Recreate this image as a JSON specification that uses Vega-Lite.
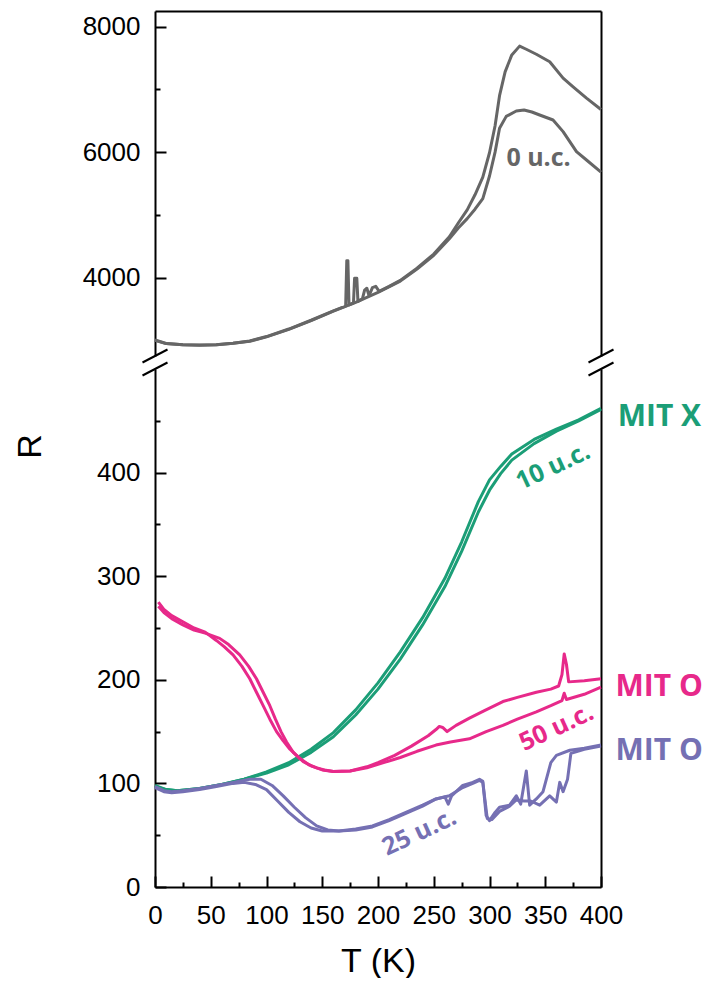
{
  "$schema": "https://vega.github.io/schema/vega-lite/v6.json",
  "background": "white",
  "padding": {"left": 13, "top": 11, "right": 0, "bottom": 0},
  "bounds": "flush",
  "spacing": 13,
  "config": {
    "view": {"stroke": null},
    "axis": {"grid": false, "format": "d", "labelOverlap": false, "labelFlush": false, "domainColor": "black", "domainWidth": 2, "tickColor": "black", "tickWidth": 2, "labelFont": "Liberation Sans", "labelFontSize": 26, "labelColor": "black", "titleFont": "Liberation Sans", "titleFontSize": 34, "titleFontWeight": "normal", "titleColor": "black"},
    "text": {"font": "Open Sans", "fontWeight": "bold"}
  },
  "datasets": {
    "gray": [
      {"c":"g1","T":0,"R":3005},{"c":"g1","T":10,"R":2950},{"c":"g1","T":25,"R":2930},{"c":"g1","T":40,"R":2925},{"c":"g1","T":55,"R":2930},{"c":"g1","T":70,"R":2955},{"c":"g1","T":85,"R":2990},{"c":"g1","T":100,"R":3060},{"c":"g1","T":120,"R":3180},{"c":"g1","T":140,"R":3320},{"c":"g1","T":160,"R":3470},{"c":"g1","T":168,"R":3525},{"c":"g1","T":171,"R":3545},{"c":"g1","T":172,"R":4270},{"c":"g1","T":173,"R":4270},{"c":"g1","T":174,"R":3565},{"c":"g1","T":178,"R":3595},{"c":"g1","T":179,"R":3990},{"c":"g1","T":181,"R":3990},{"c":"g1","T":182,"R":3620},{"c":"g1","T":186,"R":3660},{"c":"g1","T":188,"R":3800},{"c":"g1","T":190,"R":3830},{"c":"g1","T":192,"R":3710},{"c":"g1","T":195,"R":3840},{"c":"g1","T":198,"R":3860},{"c":"g1","T":201,"R":3780},{"c":"g1","T":210,"R":3860},{"c":"g1","T":220,"R":3955},{"c":"g1","T":235,"R":4150},{"c":"g1","T":250,"R":4375},{"c":"g1","T":264,"R":4650},{"c":"g1","T":272,"R":4870},{"c":"g1","T":280,"R":5080},{"c":"g1","T":287,"R":5320},{"c":"g1","T":294,"R":5600},{"c":"g1","T":300,"R":5990},{"c":"g1","T":305,"R":6420},{"c":"g1","T":309,"R":6900},{"c":"g1","T":314,"R":7280},{"c":"g1","T":320,"R":7550},{"c":"g1","T":327,"R":7690},{"c":"g1","T":333,"R":7640},{"c":"g1","T":342,"R":7560},{"c":"g1","T":354,"R":7440},{"c":"g1","T":366,"R":7180},{"c":"g1","T":375,"R":7040},{"c":"g1","T":387,"R":6860},{"c":"g1","T":400,"R":6680},
      {"c":"g2","T":0,"R":3000},{"c":"g2","T":10,"R":2948},{"c":"g2","T":25,"R":2928},{"c":"g2","T":40,"R":2923},{"c":"g2","T":55,"R":2928},{"c":"g2","T":70,"R":2952},{"c":"g2","T":85,"R":2985},{"c":"g2","T":100,"R":3055},{"c":"g2","T":120,"R":3175},{"c":"g2","T":140,"R":3315},{"c":"g2","T":160,"R":3465},{"c":"g2","T":180,"R":3605},{"c":"g2","T":200,"R":3765},{"c":"g2","T":220,"R":3945},{"c":"g2","T":235,"R":4135},{"c":"g2","T":250,"R":4355},{"c":"g2","T":264,"R":4620},{"c":"g2","T":272,"R":4790},{"c":"g2","T":280,"R":4940},{"c":"g2","T":287,"R":5090},{"c":"g2","T":294,"R":5260},{"c":"g2","T":300,"R":5620},{"c":"g2","T":305,"R":6000},{"c":"g2","T":309,"R":6380},{"c":"g2","T":315,"R":6570},{"c":"g2","T":324,"R":6656},{"c":"g2","T":331,"R":6672},{"c":"g2","T":338,"R":6640},{"c":"g2","T":345,"R":6592},{"c":"g2","T":357,"R":6512},{"c":"g2","T":366,"R":6327},{"c":"g2","T":378,"R":6008},{"c":"g2","T":387,"R":5875},{"c":"g2","T":400,"R":5680}
    ],
    "films": [
      {"s":"10","c":"a","T":0,"R":97},{"s":"10","c":"a","T":10,"R":94},{"s":"10","c":"a","T":20,"R":93},{"s":"10","c":"a","T":40,"R":95},{"s":"10","c":"a","T":60,"R":99},{"s":"10","c":"a","T":80,"R":104},{"s":"10","c":"a","T":100,"R":111},{"s":"10","c":"a","T":120,"R":120},{"s":"10","c":"a","T":140,"R":133},{"s":"10","c":"a","T":160,"R":149},{"s":"10","c":"a","T":180,"R":171},{"s":"10","c":"a","T":200,"R":197},{"s":"10","c":"a","T":220,"R":227},{"s":"10","c":"a","T":240,"R":260},{"s":"10","c":"a","T":260,"R":298},{"s":"10","c":"a","T":275,"R":333},{"s":"10","c":"a","T":290,"R":372},{"s":"10","c":"a","T":300,"R":393},{"s":"10","c":"a","T":310,"R":406},{"s":"10","c":"a","T":320,"R":418},{"s":"10","c":"a","T":340,"R":432},{"s":"10","c":"a","T":360,"R":442},{"s":"10","c":"a","T":380,"R":451},{"s":"10","c":"a","T":400,"R":462},
      {"s":"10","c":"b","T":0,"R":98},{"s":"10","c":"b","T":10,"R":94},{"s":"10","c":"b","T":20,"R":93},{"s":"10","c":"b","T":40,"R":95},{"s":"10","c":"b","T":60,"R":99},{"s":"10","c":"b","T":80,"R":104},{"s":"10","c":"b","T":100,"R":110},{"s":"10","c":"b","T":120,"R":118},{"s":"10","c":"b","T":140,"R":130},{"s":"10","c":"b","T":160,"R":145},{"s":"10","c":"b","T":180,"R":166},{"s":"10","c":"b","T":200,"R":191},{"s":"10","c":"b","T":220,"R":220},{"s":"10","c":"b","T":240,"R":253},{"s":"10","c":"b","T":260,"R":290},{"s":"10","c":"b","T":275,"R":324},{"s":"10","c":"b","T":290,"R":362},{"s":"10","c":"b","T":300,"R":383},{"s":"10","c":"b","T":310,"R":399},{"s":"10","c":"b","T":320,"R":412},{"s":"10","c":"b","T":340,"R":428},{"s":"10","c":"b","T":360,"R":440},{"s":"10","c":"b","T":380,"R":450},{"s":"10","c":"b","T":400,"R":461},
      {"s":"50","c":"a","T":3,"R":275},{"s":"50","c":"a","T":8,"R":268},{"s":"50","c":"a","T":15,"R":262},{"s":"50","c":"a","T":25,"R":256},{"s":"50","c":"a","T":35,"R":250},{"s":"50","c":"a","T":45,"R":246},{"s":"50","c":"a","T":55,"R":238},{"s":"50","c":"a","T":62,"R":232},{"s":"50","c":"a","T":70,"R":224},{"s":"50","c":"a","T":78,"R":213},{"s":"50","c":"a","T":85,"R":201},{"s":"50","c":"a","T":91,"R":188},{"s":"50","c":"a","T":97,"R":175},{"s":"50","c":"a","T":103,"R":162},{"s":"50","c":"a","T":109,"R":150},{"s":"50","c":"a","T":115,"R":141},{"s":"50","c":"a","T":121,"R":133},{"s":"50","c":"a","T":130,"R":124},{"s":"50","c":"a","T":138,"R":118},{"s":"50","c":"a","T":145,"R":115},{"s":"50","c":"a","T":152,"R":113},{"s":"50","c":"a","T":160,"R":111.5},{"s":"50","c":"a","T":175,"R":112},{"s":"50","c":"a","T":190,"R":116},{"s":"50","c":"a","T":200,"R":120},{"s":"50","c":"a","T":215,"R":127},{"s":"50","c":"a","T":230,"R":136},{"s":"50","c":"a","T":245,"R":146},{"s":"50","c":"a","T":252,"R":152},{"s":"50","c":"a","T":255,"R":155},{"s":"50","c":"a","T":258,"R":154},{"s":"50","c":"a","T":262,"R":150},{"s":"50","c":"a","T":270,"R":156},{"s":"50","c":"a","T":282,"R":163},{"s":"50","c":"a","T":295,"R":170},{"s":"50","c":"a","T":312,"R":179},{"s":"50","c":"a","T":325,"R":183},{"s":"50","c":"a","T":342,"R":188},{"s":"50","c":"a","T":355,"R":191},{"s":"50","c":"a","T":362,"R":194},{"s":"50","c":"a","T":365,"R":205},{"s":"50","c":"a","T":367,"R":225},{"s":"50","c":"a","T":369,"R":215},{"s":"50","c":"a","T":371,"R":198},{"s":"50","c":"a","T":385,"R":199},{"s":"50","c":"a","T":400,"R":201},
      {"s":"50","c":"b","T":3,"R":271},{"s":"50","c":"b","T":8,"R":265},{"s":"50","c":"b","T":15,"R":259},{"s":"50","c":"b","T":25,"R":253},{"s":"50","c":"b","T":35,"R":248},{"s":"50","c":"b","T":45,"R":245},{"s":"50","c":"b","T":58,"R":240},{"s":"50","c":"b","T":66,"R":234},{"s":"50","c":"b","T":76,"R":224},{"s":"50","c":"b","T":84,"R":213},{"s":"50","c":"b","T":91,"R":201},{"s":"50","c":"b","T":97,"R":188},{"s":"50","c":"b","T":103,"R":175},{"s":"50","c":"b","T":108,"R":162},{"s":"50","c":"b","T":113,"R":150},{"s":"50","c":"b","T":118,"R":140},{"s":"50","c":"b","T":124,"R":130},{"s":"50","c":"b","T":133,"R":121},{"s":"50","c":"b","T":140,"R":117},{"s":"50","c":"b","T":150,"R":113},{"s":"50","c":"b","T":160,"R":111.5},{"s":"50","c":"b","T":175,"R":112},{"s":"50","c":"b","T":190,"R":115},{"s":"50","c":"b","T":205,"R":120},{"s":"50","c":"b","T":220,"R":125},{"s":"50","c":"b","T":235,"R":131},{"s":"50","c":"b","T":252,"R":137},{"s":"50","c":"b","T":265,"R":140},{"s":"50","c":"b","T":282,"R":143},{"s":"50","c":"b","T":297,"R":150},{"s":"50","c":"b","T":312,"R":156},{"s":"50","c":"b","T":325,"R":162},{"s":"50","c":"b","T":342,"R":169},{"s":"50","c":"b","T":355,"R":175},{"s":"50","c":"b","T":365,"R":180},{"s":"50","c":"b","T":367,"R":187},{"s":"50","c":"b","T":369,"R":181},{"s":"50","c":"b","T":385,"R":186},{"s":"50","c":"b","T":400,"R":193},
      {"s":"25","c":"a","T":0,"R":97},{"s":"25","c":"a","T":8,"R":93},{"s":"25","c":"a","T":15,"R":92},{"s":"25","c":"a","T":25,"R":93},{"s":"25","c":"a","T":40,"R":95},{"s":"25","c":"a","T":55,"R":98},{"s":"25","c":"a","T":70,"R":101},{"s":"25","c":"a","T":85,"R":104},{"s":"25","c":"a","T":95,"R":104},{"s":"25","c":"a","T":105,"R":98},{"s":"25","c":"a","T":115,"R":88},{"s":"25","c":"a","T":125,"R":77},{"s":"25","c":"a","T":135,"R":67},{"s":"25","c":"a","T":145,"R":59},{"s":"25","c":"a","T":155,"R":55},{"s":"25","c":"a","T":165,"R":54},{"s":"25","c":"a","T":180,"R":55},{"s":"25","c":"a","T":195,"R":58},{"s":"25","c":"a","T":210,"R":64},{"s":"25","c":"a","T":225,"R":71},{"s":"25","c":"a","T":240,"R":78},{"s":"25","c":"a","T":252,"R":85},{"s":"25","c":"a","T":260,"R":87},{"s":"25","c":"a","T":263,"R":80},{"s":"25","c":"a","T":266,"R":88},{"s":"25","c":"a","T":276,"R":98},{"s":"25","c":"a","T":285,"R":101},{"s":"25","c":"a","T":291,"R":104},{"s":"25","c":"a","T":294,"R":102},{"s":"25","c":"a","T":297,"R":69},{"s":"25","c":"a","T":300,"R":64},{"s":"25","c":"a","T":305,"R":72},{"s":"25","c":"a","T":309,"R":77},{"s":"25","c":"a","T":318,"R":79},{"s":"25","c":"a","T":324,"R":88},{"s":"25","c":"a","T":328,"R":80},{"s":"25","c":"a","T":333,"R":112},{"s":"25","c":"a","T":336,"R":79},{"s":"25","c":"a","T":342,"R":85},{"s":"25","c":"a","T":348,"R":92},{"s":"25","c":"a","T":355,"R":120},{"s":"25","c":"a","T":360,"R":127},{"s":"25","c":"a","T":372,"R":132},{"s":"25","c":"a","T":385,"R":134},{"s":"25","c":"a","T":400,"R":137},
      {"s":"25","c":"b","T":0,"R":96},{"s":"25","c":"b","T":8,"R":92},{"s":"25","c":"b","T":15,"R":91},{"s":"25","c":"b","T":25,"R":92},{"s":"25","c":"b","T":40,"R":94},{"s":"25","c":"b","T":55,"R":97},{"s":"25","c":"b","T":70,"R":100},{"s":"25","c":"b","T":80,"R":101},{"s":"25","c":"b","T":90,"R":99},{"s":"25","c":"b","T":100,"R":94},{"s":"25","c":"b","T":110,"R":83},{"s":"25","c":"b","T":120,"R":72},{"s":"25","c":"b","T":130,"R":63},{"s":"25","c":"b","T":140,"R":57},{"s":"25","c":"b","T":150,"R":54},{"s":"25","c":"b","T":165,"R":54},{"s":"25","c":"b","T":180,"R":56},{"s":"25","c":"b","T":195,"R":59},{"s":"25","c":"b","T":210,"R":65},{"s":"25","c":"b","T":225,"R":72},{"s":"25","c":"b","T":240,"R":79},{"s":"25","c":"b","T":252,"R":85},{"s":"25","c":"b","T":264,"R":88},{"s":"25","c":"b","T":276,"R":96},{"s":"25","c":"b","T":285,"R":100},{"s":"25","c":"b","T":291,"R":103},{"s":"25","c":"b","T":294,"R":101},{"s":"25","c":"b","T":298,"R":66},{"s":"25","c":"b","T":302,"R":65},{"s":"25","c":"b","T":309,"R":73},{"s":"25","c":"b","T":318,"R":78},{"s":"25","c":"b","T":324,"R":84},{"s":"25","c":"b","T":331,"R":83},{"s":"25","c":"b","T":337,"R":83},{"s":"25","c":"b","T":345,"R":79},{"s":"25","c":"b","T":354,"R":88},{"s":"25","c":"b","T":360,"R":82},{"s":"25","c":"b","T":363,"R":101},{"s":"25","c":"b","T":366,"R":92},{"s":"25","c":"b","T":370,"R":104},{"s":"25","c":"b","T":373,"R":129},{"s":"25","c":"b","T":385,"R":133},{"s":"25","c":"b","T":400,"R":136}
    ]
  },
  "vconcat": [
    {
      "width": 446,
      "height": 345,
      "resolve": {"axis": {"x": "independent", "y": "independent"}},
      "layer": [
        {
          "data": {"name": "gray"},
          "mark": {"type": "line", "strokeWidth": 3, "color": "#666666", "strokeJoin": "round"},
          "encoding": {
            "x": {"field": "T", "type": "quantitative", "scale": {"domain": [0, 400]}, "axis": {"orient": "top", "ticks": false, "labels": false, "domain": true, "title": null}},
            "y": {"field": "R", "type": "quantitative", "scale": {"domain": [2750, 8250], "zero": false, "nice": false}, "axis": {"orient": "left", "values": [4000, 6000, 8000], "tickSize": -11, "labelPadding": 26, "title": null}},
            "detail": {"field": "c"}
          }
        },
        {
          "data": {"values": [{"T": 0, "R": 2750}, {"T": 400, "R": 2750}]},
          "mark": {"type": "point", "shape": "M-1,0.52L1,-0.52", "size": 625, "filled": false, "stroke": "black", "strokeWidth": 2, "opacity": 1},
          "encoding": {
            "x": {"field": "T", "type": "quantitative", "axis": null},
            "y": {"field": "R", "type": "quantitative", "axis": {"orient": "left", "values": [5000, 7000], "tickSize": -5, "labels": false, "domain": false, "title": null}}
          }
        },
        {
          "data": {"values": [{"label": "0 u.c.", "T": 344, "R": 5900}]},
          "mark": {"type": "text", "fontSize": 25, "color": "#666666"},
          "encoding": {
            "x": {"field": "T", "type": "quantitative", "axis": null},
            "y": {"field": "R", "type": "quantitative", "axis": {"orient": "right", "ticks": false, "labels": false, "domain": true, "title": null}},
            "text": {"field": "label"}
          }
        }
      ]
    },
    {
      "width": 446,
      "height": 518,
      "resolve": {"axis": {"x": "independent", "y": "independent"}},
      "layer": [
        {
          "data": {"name": "films"},
          "mark": {"type": "line", "strokeWidth": 3, "strokeJoin": "round"},
          "encoding": {
            "x": {"field": "T", "type": "quantitative", "scale": {"domain": [0, 400]}, "axis": {"orient": "bottom", "values": [0, 50, 100, 150, 200, 250, 300, 350, 400], "tickSize": -11, "labelPadding": 26, "title": "T (K)", "titlePadding": 16}},
            "y": {"field": "R", "type": "quantitative", "scale": {"domain": [0, 500], "nice": false}, "axis": {"orient": "left", "values": [0, 100, 200, 300, 400], "tickSize": -11, "labelPadding": 26, "title": "R", "titleX": -115, "titleY": 77, "titleBaseline": "alphabetic", "titleAngle": 270, "titleAlign": "center"}},
            "color": {"field": "s", "type": "nominal", "scale": {"domain": ["10", "25", "50"], "range": ["#1b9e77", "#7570b3", "#e7298a"]}, "legend": null},
            "detail": {"field": "c"}
          }
        },
        {
          "data": {"values": [{"T": 0, "R": 500}, {"T": 400, "R": 500}]},
          "mark": {"type": "point", "shape": "M-1,0.52L1,-0.52", "size": 625, "filled": false, "stroke": "black", "strokeWidth": 2, "opacity": 1},
          "encoding": {
            "x": {"field": "T", "type": "quantitative", "axis": {"orient": "bottom", "values": [25, 75, 125, 175, 225, 275, 325, 375], "tickSize": -5, "labels": false, "domain": false, "title": null}},
            "y": {"field": "R", "type": "quantitative", "axis": {"orient": "left", "values": [50, 150, 250, 350, 450], "tickSize": -5, "labels": false, "domain": false, "title": null}}
          }
        },
        {
          "data": {"values": [{"label": "10 u.c.", "s": "10", "T": 357, "R": 406}, {"label": "50 u.c.", "s": "50", "T": 360, "R": 154}, {"label": "25 u.c.", "s": "25", "T": 237, "R": 53}]},
          "mark": {"type": "text", "fontSize": 25, "angle": -25},
          "encoding": {
            "x": {"field": "T", "type": "quantitative", "axis": null},
            "y": {"field": "R", "type": "quantitative", "axis": {"orient": "right", "ticks": false, "labels": false, "domain": true, "title": null}},
            "text": {"field": "label"},
            "color": {"field": "s", "type": "nominal", "scale": {"domain": ["10", "25", "50"], "range": ["#1b9e77", "#7570b3", "#e7298a"]}, "legend": null}
          }
        },
        {
          "data": {"values": [{"label": "MIT X", "s": "10", "T": 415, "R": 454}, {"label": "MIT O", "s": "50", "T": 413, "R": 193}, {"label": "MIT O", "s": "25", "T": 413, "R": 131}]},
          "mark": {"type": "text", "fontSize": 30, "align": "left"},
          "encoding": {
            "x": {"field": "T", "type": "quantitative", "axis": null},
            "y": {"field": "R", "type": "quantitative", "axis": null},
            "text": {"field": "label"},
            "color": {"field": "s", "type": "nominal", "scale": {"domain": ["10", "25", "50"], "range": ["#1b9e77", "#7570b3", "#e7298a"]}, "legend": null}
          }
        }
      ]
    }
  ]
}
